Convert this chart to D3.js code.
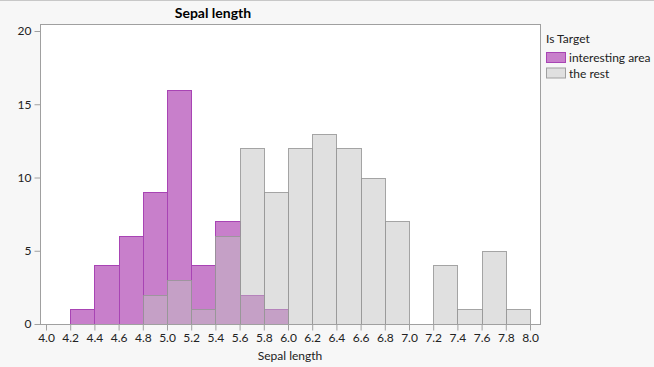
<!DOCTYPE html>
<html><head><meta charset="utf-8">
<script src="https://cdn.jsdelivr.net/npm/d3@7"></script>
<style>
html,body{margin:0;padding:0;background:#f7f7f7;}
svg{display:block;font-family:"Segoe UI",Lato,"Noto Sans",sans-serif;}
</style></head>
<body><svg id="c" width="654" height="367"></svg>
<script>
const binStarts = [4.0,4.2,4.4,4.6,4.8,5.0,5.2,5.4,5.6,5.8,6.0,6.2,6.4,6.6,6.8,7.0,7.2,7.4,7.6,7.8];
const interesting = [0,1,4,6,9,16,4,7,2,1,0,0,0,0,0,0,0,0,0,0];
const theRest     = [0,0,0,0,2,3,1,6,12,9,12,13,12,10,7,0,4,1,5,1];
const xTicks = [4.0,4.2,4.4,4.6,4.8,5.0,5.2,5.4,5.6,5.8,6.0,6.2,6.4,6.6,6.8,7.0,7.2,7.4,7.6,7.8,8.0];
const yTicks = [0,5,10,15,20];
const binWidth = 0.2;

const FONT = '"Segoe UI",Lato,"Noto Sans",sans-serif';
const svg = d3.select("#c");
const x = d3.scaleLinear().domain([4,8]).range([46,530]);
const y = d3.scaleLinear().domain([0,20]).range([324,31]);
const L=40, R=540, T=24, B=324;

svg.append("line").attr("x1",0).attr("x2",654).attr("y1",0.5).attr("y2",0.5).attr("stroke","#c8c8c8");
svg.append("rect").attr("x",L+0.5).attr("y",T+0.5).attr("width",R-L).attr("height",B-T).attr("fill","#fff");

const pData = binStarts.map((s,i)=>({s,v:interesting[i]})).filter(d=>d.v>0);
const gData = binStarts.map((s,i)=>({s,v:theRest[i]})).filter(d=>d.v>0);

svg.append("g").selectAll("rect").data(pData).join("rect")
  .attr("x",d=>Math.round(x(d.s))+0.5).attr("width",d=>Math.round(x(d.s+binWidth))-Math.round(x(d.s)))
  .attr("y",d=>Math.round(y(d.v))+0.5).attr("height",d=>Math.round(y(0))-Math.round(y(d.v)))
  .attr("fill","#c87fcb").attr("stroke","#a844b4").attr("stroke-width",1);
svg.append("g").selectAll("rect").data(gData).join("rect")
  .attr("x",d=>Math.round(x(d.s))+0.5).attr("width",d=>Math.round(x(d.s+binWidth))-Math.round(x(d.s)))
  .attr("y",d=>Math.round(y(d.v))+0.5).attr("height",d=>Math.round(y(0))-Math.round(y(d.v)))
  .attr("fill","rgba(193,193,193,0.5)").attr("stroke","rgba(150,150,150,0.85)").attr("stroke-width",1);

// frame
svg.append("rect").attr("x",L+0.5).attr("y",T+0.5).attr("width",R-L).attr("height",B-T).attr("fill","none").attr("stroke","#a0a0a0");

// axes
const ya = d3.axisLeft(y).tickValues(yTicks).tickSize(6).tickPadding(3).tickFormat(d3.format("d"));
const yg = svg.append("g").attr("transform",`translate(${L+0.5},0)`).call(ya);
const xa = d3.axisBottom(x).tickValues(xTicks).tickSize(6).tickPadding(3).tickFormat(d3.format(".1f"));
const xg = svg.append("g").attr("transform",`translate(0,${B+0.5})`).call(xa);
[yg,xg].forEach(g=>{
  g.select(".domain").remove();
  g.selectAll(".tick line").attr("stroke","#a0a0a0");
  g.selectAll(".tick text").attr("fill","#222").style("font-size","12px").style("font-family",FONT);
});

svg.append("text").attr("x",213).attr("y",18).attr("text-anchor","middle")
  .style("font-size","14px").style("font-weight","bold").attr("fill","#000").text("Sepal length");
svg.append("text").attr("x",290).attr("y",360).attr("text-anchor","middle")
  .style("font-size","12px").attr("fill","#222").text("Sepal length");

// legend
const lg = svg.append("g");
lg.append("text").attr("x",546).attr("y",43).style("font-size","12px").attr("fill","#222").text("Is Target");
const items = [{n:"interesting area",f:"#c87fcb",s:"#a844b4"},{n:"the rest",f:"#e0e0e0",s:"#a0a0a0"}];
items.forEach((it,i)=>{
  lg.append("rect").attr("x",546.5).attr("y",52.5+i*15.5).attr("width",19).attr("height",10).attr("fill",it.f).attr("stroke",it.s);
  lg.append("text").attr("x",569).attr("y",62+i*15.5).style("font-size","12px").attr("fill","#222").text(it.n);
});
</script></body></html>
